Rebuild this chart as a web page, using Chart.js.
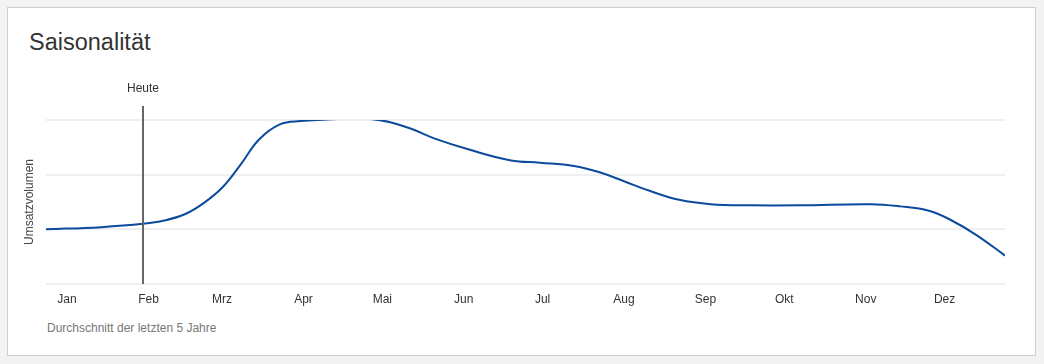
<!DOCTYPE html>
<html>
<head>
<meta charset="utf-8">
<script src="https://cdn.jsdelivr.net/npm/chart.js@4/dist/chart.umd.min.js"></script>
<style>
  html, body { margin: 0; padding: 0; background: #f3f3f3; width: 1044px; height: 364px; overflow: hidden; }
  .card { position: absolute; left: 7px; top: 7px; width: 1027px; height: 347px; background: #fff; border: 1px solid #cfcfcf; }
  h2 { position: absolute; left: 21px; top: 21px; margin: 0; font: 300 23.5px "Liberation Sans", Arial, sans-serif; color: #333; }
  .note { position: absolute; left: 39px; top: 313px; font: 12px "Liberation Sans", Arial, sans-serif; color: #777; }
  #wrap { position: absolute; left: 20px; top: 70px; width: 990px; height: 244px; }
</style>
</head>
<body>
<div class="card">
  <h2>Saisonalität</h2>
  <div class="note">Durchschnitt der letzten 5 Jahre</div>
</div>
<div id="wrap"><canvas id="seasonChart"></canvas></div>
<script>
// month labels and where each month starts (day of year)
const months = ["Jan", "Feb", "Mrz", "Apr", "Mai", "Jun", "Jul", "Aug", "Sep", "Okt", "Nov", "Dez"];
const monthStart = [0, 31, 59, 90, 120, 151, 181, 212, 243, 273, 304, 334];

// seasonal volume (day of year -> index)
const days = [-8, 13, 29, 37, 45, 52, 59, 66, 73, 81, 89, 104, 115, 123, 131, 140, 153, 169, 180, 193, 203, 212, 222, 233, 245, 260, 279, 306, 317, 328, 336, 346, 357];
const volume = [50, 52, 55, 58, 64, 74, 88, 109, 132, 146, 149, 151, 151, 148, 142, 133, 123, 113, 111, 108, 102, 94, 85, 77, 73, 72, 72, 73, 71, 67, 59, 45, 26];

const today = 29;
const todayLabel = "Heute";

const todayLine = {
    id: "todayLine",
    afterDatasetsDraw(chart) {
        const ctx = chart.ctx;
        const x = Math.round(chart.scales.x.getPixelForValue(today));
        const bottom = chart.chartArea.bottom;
        ctx.save();
        ctx.strokeStyle = "#666";
        ctx.lineWidth = 2;
        ctx.beginPath();
        ctx.moveTo(x, bottom);
        ctx.lineTo(x, chart.chartArea.top - 14);
        ctx.stroke();
        ctx.fillStyle = "#333";
        ctx.font = "12px 'Liberation Sans', Arial, sans-serif";
        ctx.textAlign = "center";
        ctx.textBaseline = "middle";
        ctx.fillText(todayLabel, x, chart.chartArea.top - 31);
        ctx.restore();
    }
};

document.addEventListener("DOMContentLoaded", () => {

    new Chart(document.getElementById("seasonChart"), {
        type: "line",
        data: {
            datasets: [{
                data: days.map((d, i) => ({ x: d, y: volume[i] })),
                borderColor: "#0b4a9c",
                borderWidth: 2,
                pointRadius: 0,
                tension: 0.4,
                fill: false
            }]
        },
        options: {
            responsive: true,
            maintainAspectRatio: false,
            animation: false,
            layout: { padding: { top: 50, right: 5, left: 0, bottom: 0 } },
            plugins: {
                legend: { display: false },
                tooltip: { enabled: false }
            },
            scales: {
                x: {
                    type: "linear",
                    min: days[0],
                    max: days[days.length - 1],
                    grid: { display: false },
                    border: { display: false },
                    afterBuildTicks: (scale) => {
                        scale.ticks = monthStart.map(v => ({ value: v }));
                    },
                    afterFit: (scale) => { scale.height = 30; },
                    ticks: {
                        autoSkip: false,
                        maxRotation: 0,
                        padding: 0,
                        color: "#333",
                        font: { family: "'Liberation Sans', Arial, sans-serif", size: 12 },
                        callback: (v) => months[monthStart.indexOf(v)]
                    }
                },
                y: {
                    min: 0,
                    max: 150,
                    ticks: { display: false, stepSize: 50 },
                    grid: { color: "#efefef", lineWidth: 2, drawTicks: false },
                    border: { display: false },
                    afterFit: (scale) => { scale.width = 26; },
                    title: {
                        display: true,
                        text: "Umsatzvolumen",
                        color: "#444",
                        padding: 2,
                        font: { family: "'Liberation Sans', Arial, sans-serif", size: 12 }
                    }
                }
            }
        },
        plugins: [todayLine]
    });

});
</script>
</body>
</html>
